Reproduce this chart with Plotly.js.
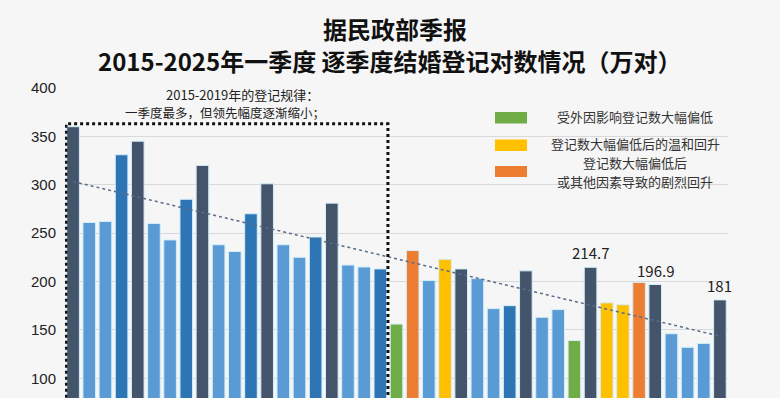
<!DOCTYPE html>
<html>
<head>
<meta charset="utf-8">
<script src="https://cdn.plot.ly/plotly-3.0.1.min.js"></script>
<style>
  html, body { margin: 0; padding: 0; background: #f6f6f6; }
  #chart { width: 780px; height: 398px; }
</style>
</head>
<body>
<div id="chart"></div>
<script>
// ---- Data ----
const quarters = [
  '2015Q1','2015Q2','2015Q3','2015Q4',
  '2016Q1','2016Q2','2016Q3','2016Q4',
  '2017Q1','2017Q2','2017Q3','2017Q4',
  '2018Q1','2018Q2','2018Q3','2018Q4',
  '2019Q1','2019Q2','2019Q3','2019Q4',
  '2020Q1','2020Q2','2020Q3','2020Q4',
  '2021Q1','2021Q2','2021Q3','2021Q4',
  '2022Q1','2022Q2','2022Q3','2022Q4',
  '2023Q1','2023Q2','2023Q3','2023Q4',
  '2024Q1','2024Q2','2024Q3','2024Q4',
  '2025Q1'
];
const marriages = [
  360, 261, 262, 331,
  345, 260, 243, 285,
  320, 238, 231, 270,
  301, 238, 225, 246,
  281, 217, 215, 213,
  156, 232, 201, 223,
  213, 203, 172, 175,
  211, 163, 171, 139,
  214.7, 178, 176, 199,
  196.9, 146, 132, 136,
  181
];
// category of each bar: q1 / q23 / q4 normal quarters, low = external shock,
// mild = mild rebound, sharp = sharp rebound
const kinds = [
  'q1','q23','q23','q4',
  'q1','q23','q23','q4',
  'q1','q23','q23','q4',
  'q1','q23','q23','q4',
  'q1','q23','q23','q4',
  'low','sharp','q23','mild',
  'q1','q23','q23','q4',
  'q1','q23','q23','low',
  'q1','mild','mild','sharp',
  'q1','q23','q23','q23',
  'q1'
];
const labelledQuarters = ['2023Q1','2024Q1','2025Q1'];
const yTicks = [100, 150, 200, 250, 300, 350, 400];
const legendKinds = ['low','mild','sharp'];
const legendLines = [
  ['受外因影响登记数大幅偏低'],
  ['登记数大幅偏低后的温和回升'],
  ['登记数大幅偏低后', '或其他因素导致的剧烈回升']
];
const boxTitle1 = '2015-2019年的登记规律：';
const boxTitle2 = '一季度最多，但领先幅度逐渐缩小；';
const boxLastQuarter = '2019Q4';
const titleLine1 = '据民政部季报';
const titleLine2 = '2015-2025年一季度 逐季度结婚登记对数情况（万对）';

// ---- Styles ----
const kindColor = {
  q1: '#44546a', q23: '#5b9bd5', q4: '#2e75b6',
  low: '#70ad47', mild: '#ffc000', sharp: '#ed7d31'
};
const W = 780, H = 398;
const M = { l: 65, r: 52, t: 88, b: 0 };
const PW = W - M.l - M.r, PH = H - M.t - M.b;
const px2x = p => (p - M.l) / PW;
const py2y = p => (H - M.b - p) / PH;
const CJK = '"Noto Sans CJK SC", "Noto Sans", sans-serif';

// ---- Linear trend (least squares over all quarters) ----
const n = marriages.length;
const xs = marriages.map((_, i) => i);
const mx = xs.reduce((a, b) => a + b, 0) / n;
const my = marriages.reduce((a, b) => a + b, 0) / n;
let sxy = 0, sxx = 0;
for (let i = 0; i < n; i++) { sxy += (xs[i] - mx) * (marriages[i] - my); sxx += (xs[i] - mx) ** 2; }
const slope = sxy / sxx;
const trend = xs.map(x => my + slope * (x - mx));

const bars = {
  type: 'bar',
  x: quarters,
  y: marriages,
  marker: {
    color: kinds.map(k => kindColor[k]),
    line: { color: '#d3eefa', width: 1 }
  },
  hoverinfo: 'x+y',
  showlegend: false
};
const trendLine = {
  type: 'scatter',
  mode: 'lines',
  x: quarters,
  y: trend,
  line: { color: '#5a6c88', width: 1.5, dash: 'dot' },
  hoverinfo: 'skip',
  showlegend: false
};

const boxIdx = quarters.indexOf(boxLastQuarter);
const shapes = [
  {
    type: 'rect', xref: 'x', yref: 'y',
    x0: -0.44, x1: boxIdx + 0.47, y0: 0, y1: 363,
    line: { color: '#111111', width: 3, dash: 'dot' },
    fillcolor: 'rgba(0,0,0,0)', layer: 'above'
  }
];
const swatchY = [[112, 123.5], [139.5, 151], [166, 177]];
legendKinds.forEach((k, i) => {
  shapes.push({
    type: 'rect', xref: 'paper', yref: 'paper',
    x0: px2x(495), x1: px2x(527),
    y0: py2y(swatchY[i][1]), y1: py2y(swatchY[i][0]),
    fillcolor: kindColor[k], line: { width: 0 }, layer: 'above'
  });
});

const annotations = [];
const legendLineY = [[117], [143], [162, 181]];
legendLines.forEach((lines, i) => {
  lines.forEach((t, j) => {
    annotations.push({
      xref: 'paper', yref: 'paper', x: px2x(635), y: py2y(legendLineY[i][j]),
      xanchor: 'center', yanchor: 'middle', showarrow: false, align: 'center',
      text: t, font: { family: CJK, size: 13, color: '#333333' }
    });
  });
});
annotations.push({
  xref: 'paper', yref: 'paper', x: px2x(242), y: py2y(94.5),
  xanchor: 'center', yanchor: 'middle', showarrow: false,
  text: boxTitle1, font: { family: CJK, size: 13, color: '#222222' }
});
annotations.push({
  xref: 'paper', yref: 'paper', x: px2x(225), y: py2y(112),
  xanchor: 'center', yanchor: 'middle', showarrow: false,
  text: boxTitle2, font: { family: CJK, size: 12.5, color: '#222222' }
});
labelledQuarters.forEach(q => {
  const i = quarters.indexOf(q);
  annotations.push({
    xref: 'x', yref: 'y', x: q, y: marriages[i],
    yanchor: 'bottom', yshift: 2, showarrow: false,
    text: String(marriages[i]),
    font: { family: CJK, size: 15, color: '#222222' }
  });
});
// chart title (two lines)
annotations.push({
  xref: 'paper', yref: 'paper', x: px2x(395), y: py2y(29),
  xanchor: 'center', yanchor: 'middle', showarrow: false,
  text: '<b>' + titleLine1 + '</b>',
  font: { family: CJK, size: 24, color: '#111111' }
});
annotations.push({
  xref: 'paper', yref: 'paper', x: px2x(390), y: py2y(60),
  xanchor: 'center', yanchor: 'middle', showarrow: false,
  text: '<b>' + titleLine2 + '</b>',
  font: { family: CJK, size: 24, color: '#111111' }
});

const layout = {
  width: W, height: H,
  margin: M,
  paper_bgcolor: '#f6f6f6',
  plot_bgcolor: '#f6f6f6',
  xaxis: {
    type: 'category', range: [-0.5, n - 0.5],
    showticklabels: false, showgrid: false, zeroline: false, showline: false, ticks: ''
  },
  yaxis: {
    range: [79.6, 400], tickvals: yTicks,
    showgrid: true, gridcolor: '#d9d9d9', gridwidth: 1,
    zeroline: false, showline: false, ticks: '',
    ticklabelstandoff: 8,
    tickfont: { family: '"Liberation Sans", Arial, sans-serif', size: 15, color: '#222222' }
  },
  bargap: 0.22,
  shapes: shapes,
  annotations: annotations,
  showlegend: false
};

Plotly.newPlot('chart', [bars, trendLine], layout, { displayModeBar: false, staticPlot: true });
</script>
</body>
</html>
